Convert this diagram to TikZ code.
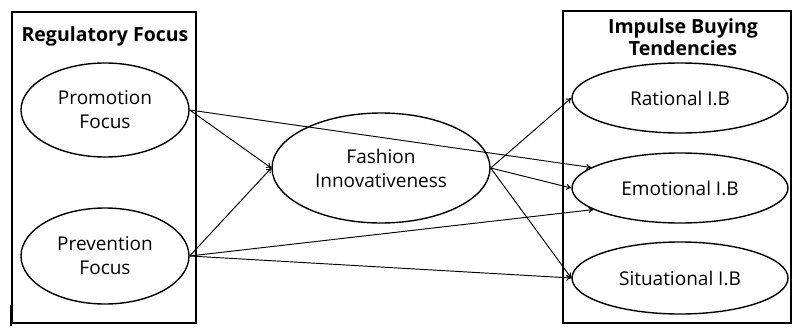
\documentclass[tikz,border=0pt]{standalone}
\usepackage{fontspec}
\setmainfont{Open Sans}
\usetikzlibrary{shapes.geometric}
\usetikzlibrary{arrows.meta}

\begin{document}
\begin{tikzpicture}[x=1pt,y=-1pt,
        latent/.style={draw=black, ellipse, line width=1.4pt, inner sep=0pt,
            align=center, font=\fontsize{19}{24}\selectfont},
        group/.style={draw=black, rectangle, line width=1.4pt, inner sep=0pt},
        heading/.style={align=center, font=\fontsize{19.5}{22}\selectfont\bfseries},
        link/.style={-{To[length=5pt,width=6pt]}, line width=0.95pt}]
        \useasboundingbox (0,0) rectangle (792,329);

        % the two groups
        \node[group, minimum width=184pt, minimum height=311pt] (regbox) at (104,167.5) {};
        \node[group, minimum width=228pt, minimum height=312pt] (ibtbox) at (677,167) {};
        \draw[black, line width=2.2pt] (11,305) -- (11,326);

        \node[heading, anchor=base] (regtitle) at (105,42) {Regulatory Focus};
        \node[heading] (ibttitle) at (683,37) {Impulse Buying\\Tendencies};

        % constructs
        \node[latent, minimum width=168pt, minimum height=94pt] (promotion) at (105,110) {Promotion\\Focus};
        \node[latent, minimum width=168pt, minimum height=96pt] (prevention) at (105,256) {Prevention\\Focus};
        \node[latent, minimum width=218pt, minimum height=110pt] (fashion) at (381,168) {Fashion\\Innovativeness};
        \node[latent, minimum width=216pt, minimum height=70pt] (rational) at (680,98) {Rational I.B};
        \node[latent, minimum width=216pt, minimum height=70pt] (emotional) at (680,188) {Emotional I.B};
        \node[latent, minimum width=216pt, minimum height=72pt] (situational) at (680,278) {Situational I.B};

        % paths
        \draw[link] (promotion.east) -- (fashion.west);
        \draw[link] (prevention.east) -- (fashion.west);
        \draw[link] (promotion.east) -- (emotional.167);
        \draw[link] (prevention.east) -- (emotional.194);
        \draw[link] (prevention.east) -- (situational.west);
        \draw[link] (fashion.east) -- (rational.west);
        \draw[link] (fashion.east) -- (emotional.west);
        \draw[link] (fashion.east) -- (situational.west);
    \end{tikzpicture}
\end{document}
